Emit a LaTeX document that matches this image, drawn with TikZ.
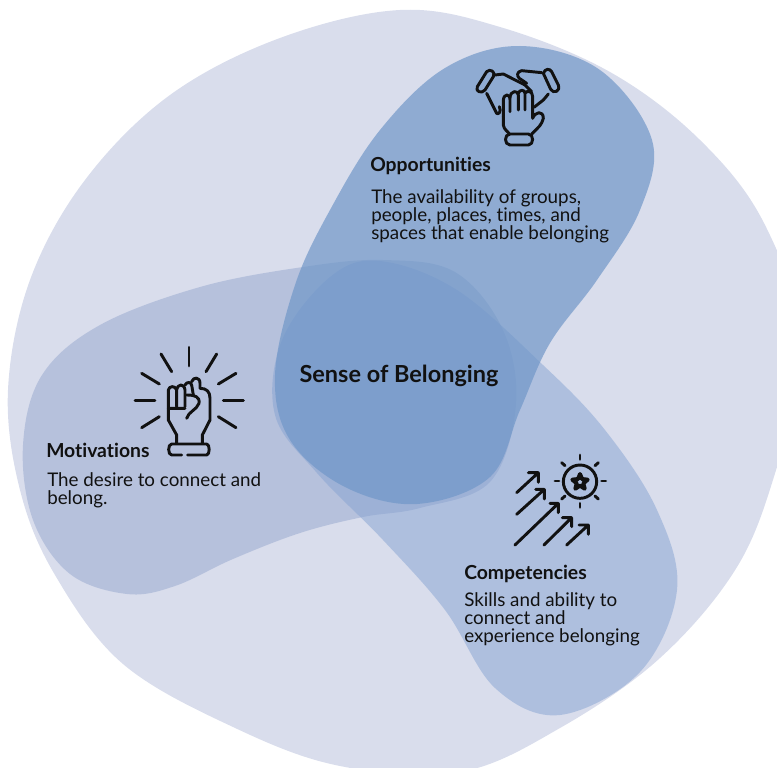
\documentclass[tikz,border=0pt]{standalone}
\usepackage{fontspec}
\setmainfont{Lato}[Ligatures=CommonOff]
\usetikzlibrary{positioning}
\definecolor{bigblob}{HTML}{D9DDEC}
\definecolor{motblob}{HTML}{95A7CE}
\definecolor{compblob}{HTML}{85A3D2}
\definecolor{oppblob}{HTML}{7097C8}
\definecolor{inkcol}{HTML}{111111}
\tikzset{
  head/.style={anchor=north west,inner sep=0pt,font=\fontsize{14.5}{16}\selectfont\bfseries,text=inkcol},
  body/.style={anchor=north west,inner sep=0pt,align=left,font=\fontsize{14.1}{13.5}\selectfont,text=inkcol},
  icon/.style={draw=inkcol,line width=2.2pt,line cap=round,line join=round},
  blob/.style={smooth cycle,tension=0.6}
}
\begin{document}
\begin{tikzpicture}[x=0.75pt,y=-0.75pt]
  \useasboundingbox (0,0) rectangle (777,767);
  \clip (0,0) rectangle (777,767);
  % background
  \fill[bigblob] plot[blob] coordinates {(400,10) (500,27) (610,72) (700,140) (765,225) (805,350) (777,467) (737,567) (660,658) (560,728) (460,772) (340,766) (233,727) (123,664) (55,575) (20,490) (8,390) (30,280) (85,180) (170,95) (280,38)};
  % motivations
  \fill[motblob,fill opacity=0.5] plot[blob] coordinates {(23,445) (42,375) (100,325) (200,287) (303,267) (383,260) (455,272) (503,330) (516,405) (490,482) (420,508) (363,517) (300,533) (233,559) (175,586) (127,594) (70,574) (33,520)};
  % competencies
  \fill[compblob,fill opacity=0.5] plot[blob] coordinates {(380,261) (457,290) (543,365) (605,430) (657,510) (677,590) (640,672) (560,715) (495,688) (445,610) (383,540) (317,473) (275,415) (282,340) (330,277)};
  % opportunities
  \fill[oppblob,fill opacity=0.7] plot[blob] coordinates {(520,46) (600,70) (652,140) (640,210) (597,280) (550,343) (520,410) (490,477) (417,504) (345,487) (290,440) (275,375) (295,285) (330,210) (380,130) (445,68)};

  \node (title) at (399,376) [inner sep=0pt,font=\fontsize{17.6}{18}\selectfont\bfseries,text=inkcol] {Sense of Belonging};
  \node (opphead) at (370,157) [head] {Opportunities};
  \node (oppbody) at (371,189) [body] {The availability of groups,\\people, places, times, and\\spaces that enable belonging};
  \node (mothead) at (46,443) [head] {Motivations};
  \node (motbody) at (47,472) [body] {The desire to connect and\\belong.};
  \node (comphead) at (464,565) [head] {Competencies};
  \node (compbody) at (464,592) [body] {Skills and ability to\\connect and\\experience belonging};

  % hands
  \begin{scope}[shift={(460,50)},x=0.25pt,y=-0.25pt,icon]
    \draw (52,110) -- (80,65) .. controls (90,55) and (108,65) .. (100,80) -- (75,120) .. controls (65,132) and (45,125) .. (52,110);
    \draw (250,70) .. controls (255,55) and (270,55) .. (275,65) -- (295,105) .. controls (302,125) and (280,132) .. (272,118) -- (250,70);
    \draw (105,75) -- (130,72) -- (195,105) -- (215,125) (80,130) -- (110,190) .. controls (115,195) and (125,185) .. (118,170);
    \draw (245,68) -- (185,62) .. controls (170,65) and (170,78) .. (178,85) -- (200,100) (265,132) -- (250,150) -- (222,172);
    \draw (130,200) -- (130,150) .. controls (132,130) and (150,130) .. (150,150) -- (150,185) (150,145) .. controls (150,120) and (175,120) .. (175,135) -- (175,180) (175,130) .. controls (178,118) and (195,118) .. (195,130) -- (195,180) (195,130) .. controls (200,120) and (218,122) .. (218,140) -- (218,205) .. controls (225,185) and (250,180) .. (250,205) .. controls (245,225) and (235,232) .. (222,245) -- (215,252);
    \draw (130,200) -- (130,225) .. controls (132,240) and (145,245) .. (148,252);
    \draw (150,252) -- (205,252) .. controls (222,252) and (222,285) .. (205,285) -- (150,285) .. controls (132,285) and (132,252) .. (150,252);
  \end{scope}

  % fist
  \begin{scope}[shift={(125,340)},x=0.25pt,y=-0.25pt,icon]
    \foreach \xa/\ya/\xb/\yb in {192/22/192/78,108/42/140/95,275/42/243/95,50/100/103/132,333/100/280/132,30/182/90/182,295/182/355/182,50/263/103/230,333/263/280/230}
      \draw (\xa,\ya) -- (\xb,\yb);
    \draw (170,345) -- (140,345) .. controls (128,345) and (128,312) .. (140,312) -- (245,312) .. controls (255,312) and (255,345) .. (245,345) -- (188,345);
    \draw (155,310) -- (155,285) -- (130,240) -- (130,150) .. controls (132,138) and (150,135) .. (155,150) -- (155,200) (155,150) .. controls (158,130) and (178,130) .. (180,150) -- (180,200) (180,135) .. controls (185,125) and (198,125) .. (200,135) (200,125) .. controls (205,110) and (225,110) .. (225,130) -- (225,145) .. controls (245,145) and (255,155) .. (255,175) -- (255,240) -- (232,285) -- (232,310);
    \draw (130,205) -- (180,205) (185,235) .. controls (190,215) and (215,210) .. (222,190) .. controls (225,170) and (210,165) .. (185,165);
    \draw (200,135) -- (205,165);
  \end{scope}

  % arrows and star
  \begin{scope}[shift={(505,450)},x=0.25pt,y=-0.25pt,icon]
    \foreach \xa/\ya/\xb/\yb/\xc/\yc in {35/128/100/68/70/97,35/193/118/118/92/147,30/285/160/160/135/188,117/285/200/203/172/230,185/285/250/225/222/253}
      \draw (\xa,\ya) -- (\xb,\yb) (\xc,\yb) -- (\xb,\yb) -- (\xb,\yc);
    \draw (225,95) circle [radius=50];
    \draw[line width=3pt] (225,72) -- (231,87) -- (248,89) -- (235,100) -- (239,116) -- (225,107) -- (211,116) -- (215,100) -- (202,89) -- (219,87) -- cycle;
    \foreach \xa/\ya/\xb/\yb in {225/15/225/28,225/160/225/172,150/93/162/93,290/93/302/93,170/38/180/47,280/38/270/47,170/147/180/138,280/147/270/138}
      \draw (\xa,\ya) -- (\xb,\yb);
  \end{scope}
\end{tikzpicture}
\end{document}
